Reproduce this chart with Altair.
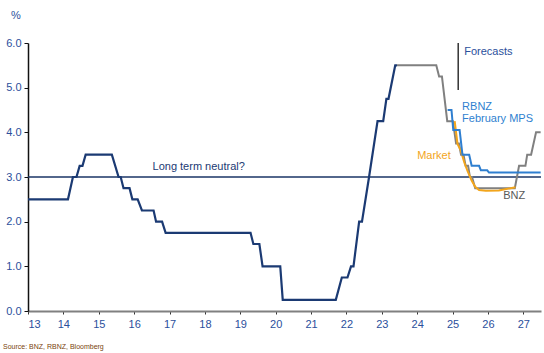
import altair as alt
import pandas as pd

# Historical OCR (navy)
hist_x = [13.0, 14.13, 14.27, 14.37, 14.46, 14.54, 14.63, 15.37, 15.56, 15.62,
          15.70, 15.87, 15.95, 16.10, 16.22, 16.55, 16.62, 16.79, 16.89, 19.29,
          19.37, 19.54, 19.63, 20.13, 20.20, 21.70, 21.87, 22.03, 22.13, 22.20,
          22.36, 22.44, 22.64, 22.88, 23.04, 23.13, 23.19, 23.38, 23.43]
hist_y = [2.5, 2.5, 3.0, 3.0, 3.25, 3.25, 3.5, 3.5, 3.0, 3.0,
          2.75, 2.75, 2.5, 2.5, 2.25, 2.25, 2.0, 2.0, 1.75, 1.75,
          1.5, 1.5, 1.0, 1.0, 0.25, 0.25, 0.75, 0.75, 1.0, 1.0,
          2.0, 2.0, 3.0, 4.25, 4.25, 4.75, 4.75, 5.5, 5.5]

# BNZ (grey)
bnz_x = [23.43, 24.54, 24.62, 24.70, 24.85, 25.01, 25.10, 25.18, 25.24, 25.31, 25.37,
         25.44, 25.49, 25.55, 25.64, 26.76, 26.88, 27.06, 27.11, 27.22, 27.36, 27.49]
bnz_y = [5.5, 5.5, 5.25, 5.25, 4.25, 4.25, 3.75, 3.75, 3.5, 3.5, 3.25,
         3.25, 3.0, 3.0, 2.75, 2.75, 3.25, 3.25, 3.5, 3.5, 4.0, 4.0]

# RBNZ February MPS (blue)
rbnz_x = [24.86, 24.97, 25.02, 25.20, 25.28, 25.47, 25.54, 25.75, 25.80, 25.98, 26.03, 27.49]
rbnz_y = [4.5, 4.5, 4.05, 4.05, 3.5, 3.5, 3.25, 3.25, 3.15, 3.15, 3.1, 3.1]

# Market (orange)
mkt_x = [25.06, 25.14, 25.23, 25.33, 25.42, 25.54, 25.64, 25.75, 25.94, 26.31, 26.78]
mkt_y = [4.25, 3.74, 3.6, 3.33, 3.14, 2.92, 2.78, 2.71, 2.69, 2.70, 2.77]

x_ticks = list(range(13, 28))
y_ticks = [0, 1, 2, 3, 4, 5, 6]
neutral = 3.0

FONT = "Liberation Sans"
NAVY = "#1B3A73"
GREY = "#808080"
BLUE = "#2F7FD0"
ORANGE = "#F2A51C"
LABEL = "#2B4F9C"

def df(xs, ys):
    return pd.DataFrame({"x": xs, "y": ys, "o": list(range(len(xs)))})

xs = alt.Scale(domain=[13, 27.5], nice=False, zero=False)
ys = alt.Scale(domain=[0, 6], nice=False, zero=True)

xaxis = alt.Axis(values=x_ticks, format="d", title=None, grid=False,
                 domainColor="#808080", domainWidth=2, tickColor="#333333",
                 tickSize=3, labelFontSize=11, labelColor=LABEL, labelFont=FONT,
                 labelPadding=4)
yaxis = alt.Axis(values=y_ticks, format=".1f", title=None, grid=False,
                 domainColor="#111111", domainWidth=1.5, tickColor="#111111",
                 tickSize=4, labelFontSize=11, labelColor=LABEL, labelFont=FONT,
                 labelPadding=3)

X = lambda f="x:Q": alt.X(f, scale=xs, axis=xaxis)
Y = lambda f="y:Q": alt.Y(f, scale=ys, axis=yaxis)

def line(d, color, w=2):
    return alt.Chart(d).mark_line(color=color, strokeWidth=w, strokeJoin="miter").encode(
        x=X(), y=Y(), order="o:Q")

neutral_rule = alt.Chart(pd.DataFrame({"y": [neutral]})).mark_rule(
    color="#1A3566", strokeWidth=1.3).encode(y=Y())

forecast_rule = alt.Chart(pd.DataFrame({"x": [25.16], "y": [6.0], "y2": [4.95]})).mark_rule(
    color="#333333", strokeWidth=1.5).encode(x=X(), y=Y(), y2="y2:Q")

def label(text, x, y, color, align="left"):
    return alt.Chart(pd.DataFrame({"x": [x], "y": [y], "t": [text]})).mark_text(
        align=align, baseline="middle", font=FONT, fontSize=11, color=color).encode(
        x=X(), y=Y(), text="t:N")

pct = alt.Chart(pd.DataFrame({"t": ["%"]})).mark_text(
    align="center", baseline="middle", font=FONT, fontSize=11, color=LABEL).encode(
    x=alt.value(-12), y=alt.value(-27), text="t:N")

source = alt.Chart(pd.DataFrame({"t": ["Source: BNZ, RBNZ, Bloomberg"]})).mark_text(
    align="left", baseline="middle", font=FONT, fontSize=7, color="#7A3F0C").encode(
    x=alt.value(-25), y=alt.value(304), text="t:N")

chart = alt.layer(
    neutral_rule,
    line(df(bnz_x, bnz_y), GREY),
    line(df(mkt_x, mkt_y), ORANGE),
    line(df(rbnz_x, rbnz_y), BLUE),
    line(df(hist_x, hist_y), NAVY, 2.2),
    forecast_rule,
    label("Forecasts", 25.33, 5.79, "#2B4F9C"),
    label("RBNZ", 25.27, 4.56, BLUE),
    label("February MPS", 25.27, 4.29, BLUE),
    label("Market", 24.0, 3.48, ORANGE),
    label("BNZ", 26.43, 2.58, "#595959"),
    label("Long term neutral?", 16.52, 3.22, NAVY),
    pct,
    source,
).properties(
    width=513, height=268,
    background="white",
    autosize=alt.AutoSizeParams(type="none"),
    padding={"left": 28, "top": 43, "right": 3, "bottom": 42},
).configure_view(stroke=None)

chart.save("out.html", embed_options={"renderer": "svg", "actions": False})
